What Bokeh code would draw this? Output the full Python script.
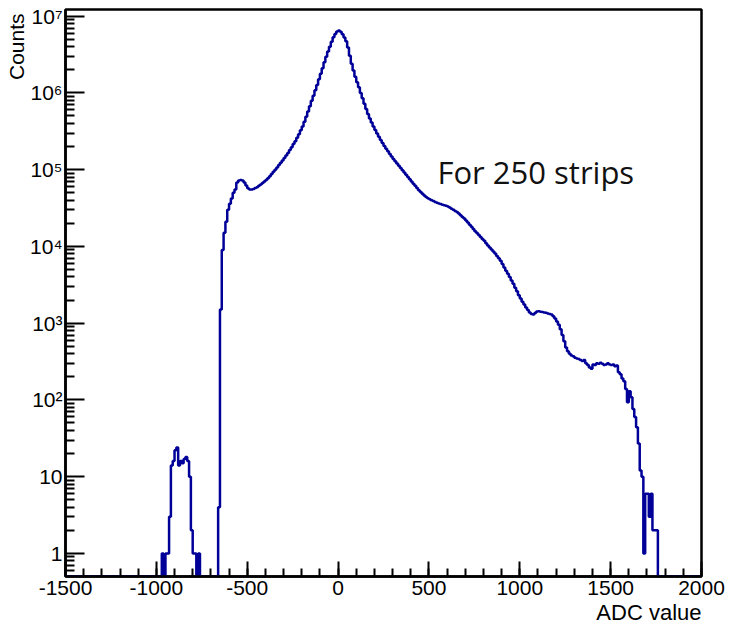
import numpy as np
from bokeh.plotting import figure
from bokeh.models import (Range1d, SingleIntervalTicker, FixedTicker,
                          CustomJSTickFormatter, Label, Title)
from bokeh.embed import file_html
from bokeh.resources import INLINE

# ---------------- data ----------------
BIN_WIDTH = 10

cluster_start = -980
cluster_counts = [0, 1, 0, 1, 1, 3, 14, 16, 22, 24, 14, 16, 15, 17, 18, 16,
                  10, 2, 1, 1, 0, 1, 0]

main_start = -660
main_counts = [
    4, 1500, 9000, 15000, 21000, 30000, 36000, 42000, 50000, 55000,          # -660..-570
    68000, 72000, 73000, 72000, 68000, 62000, 57000, 55000, 55000, 56000,    # -560..-470
    57500, 59000, 61500, 64000, 67000, 70000, 73000, 77000, 82000, 88000,    # -460..-370
    94000, 100000, 107000, 115000, 123000, 132000, 142000, 153000, 165000,   # -360..-280
    180000, 195000, 215000, 235000, 260000, 290000, 325000, 365000, 420000,  # -270..-190
    490000, 570000, 670000, 790000, 920000, 1080000, 1270000, 1500000,       # -180..-110
    1780000, 2100000, 2500000, 2950000, 3450000, 4000000, 4650000, 5300000,  # -100..-30
    5850000, 6300000, 6500000, 6250000, 5800000, 5250000, 4700000, 3900000,  # -20..50
    3050000, 2400000, 1950000, 1620000, 1380000, 1180000, 1000000, 850000,   # 60..130
    720000, 615000, 530000, 465000, 410000, 365000, 328000, 296000, 268000,  # 140..220
    244000, 222000, 203000, 187000, 173000, 160000, 148000, 138000, 129000,  # 230..310
    120000, 112000, 105000, 98000, 92000, 86000, 80000, 75000, 70000, 65500, # 320..410
    61500, 57500, 54000, 51000, 48500, 46000, 44000, 42500, 41000, 40000,    # 420..510
    39000, 38000, 37000, 36300, 35600, 35000, 34400, 33800, 33000, 32000,    # 520..610
    31000, 30000, 29000, 28000, 26800, 25500, 24200, 23000, 21800, 20500,    # 620..710
    19200, 18000, 16800, 15800, 14900, 14100, 13300, 12500, 11800, 11000,    # 720..810
    10300, 9700, 9100, 8600, 8100, 7500, 7000, 6500, 5900, 5300,             # 820..910
    4800, 4400, 4000, 3600, 3250, 2900, 2600, 2300, 2100, 1900,              # 920..1010
    1750, 1600, 1480, 1380, 1320, 1300, 1360, 1420, 1430, 1410,              # 1020..1110
    1400, 1380, 1370, 1340, 1320, 1300, 1230, 1150, 1050, 950,               # 1120..1210
    830, 700, 580, 480, 430, 400, 380, 370, 355, 345,                        # 1220..1310
    340, 330, 320, 330, 300, 285, 265, 255, 290, 285,                        # 1320..1410
    300, 295, 305, 295, 285, 290, 300, 290, 285, 290,                        # 1420..1510
    275, 280, 230, 215, 190, 175, 139, 93, 130, 108,                         # 1520..1610
    76, 60, 44, 27, 12, 10, 1, 6, 6, 3,                                      # 1620..1710
    6, 2, 2, 2, 0,                                                           # 1720..1760
]

x_start, x_end = -1500, 2000
y_bottom, y_top = 0.5, 1.22e7
y_decades = [1, 10, 100, 1e3, 1e4, 1e5, 1e6, 1e7]

# ---------------- build histogram path ----------------
edges = np.arange(x_start, x_end + BIN_WIDTH, BIN_WIDTH)
counts = np.zeros(len(edges) - 1)
i0 = (cluster_start - x_start) // BIN_WIDTH
counts[i0:i0 + len(cluster_counts)] = cluster_counts
i1 = (main_start - x_start) // BIN_WIDTH
counts[i1:i1 + len(main_counts)] = main_counts

disp = np.maximum(counts, y_bottom)
xs = np.repeat(edges, 2)[1:-1]
ys = np.repeat(disp, 2)

# ---------------- figure ----------------
p = figure(width=725, height=627, output_backend="svg", toolbar_location=None,
           y_axis_type="log",
           x_range=Range1d(x_start, x_end), y_range=Range1d(y_bottom, y_top),
           min_border_left=65, min_border_right=24, min_border_top=9,
           min_border_bottom=51)
p.grid.visible = False
p.outline_line_color = "black"
p.outline_line_width = 2.5
p.background_fill_color = "white"
p.border_fill_color = "white"

p.line(xs, ys, line_color="#000099", line_width=2.5)

# x axis
xa = p.xaxis[0]
xa.ticker = SingleIntervalTicker(interval=500, num_minor_ticks=5)
xa.formatter = CustomJSTickFormatter(code="return tick.toFixed(0);")
xa.major_tick_in = 15
xa.major_tick_out = 0
xa.minor_tick_in = 8
xa.minor_tick_out = 0
xa.major_tick_line_width = 2
xa.minor_tick_line_width = 2
xa.axis_line_width = 2.5
xa.major_label_text_font = "Liberation Sans"
xa.major_label_text_font_size = "21px"
xa.major_label_text_color = "black"
xa.major_label_standoff = 4

# y axis
minor = []
for d in [0.1] + y_decades:
    for m in range(2, 10):
        v = d * m
        if y_bottom < v < y_top:
            minor.append(v)
ya = p.yaxis[0]
ya.ticker = FixedTicker(ticks=y_decades, minor_ticks=minor)
ya.formatter = CustomJSTickFormatter(code="""
const e = Math.round(Math.log10(tick));
const sup = {"0":"\u2070","1":"\u00b9","2":"\u00b2","3":"\u00b3","4":"\u2074",
             "5":"\u2075","6":"\u2076","7":"\u2077","8":"\u2078","9":"\u2079"};
if (e == 0) return "1";
if (e == 1) return "10";
return "10" + String(e).split("").map(c => sup[c]).join("");
""")
ya.major_tick_in = 19
ya.major_tick_out = 0
ya.minor_tick_in = 9
ya.minor_tick_out = 0
ya.major_tick_line_width = 2
ya.minor_tick_line_width = 2
ya.axis_line_width = 2.5
ya.major_label_text_font = "Liberation Sans"
ya.major_label_text_font_size = "21px"
ya.major_label_text_color = "black"
ya.major_label_standoff = 3

# axis titles, aligned to the far ends of the axes (ROOT style)
p.add_layout(Title(text="ADC value", align="right", text_font="Liberation Sans",
                   text_font_size="22px", text_font_style="normal",
                   text_color="black", standoff=0, offset=0), "below")
p.add_layout(Title(text="Counts", align="right", text_font="Liberation Sans",
                   text_font_size="21px", text_font_style="normal",
                   text_color="black", standoff=0, offset=4), "left")

p.add_layout(Label(x=547, y=94000, text="For 250 strips",
                   text_font="Open Sans", text_font_size="31px",
                   text_color="#111111", text_baseline="alphabetic"))

open("out.html", "w").write(file_html(p, INLINE))
